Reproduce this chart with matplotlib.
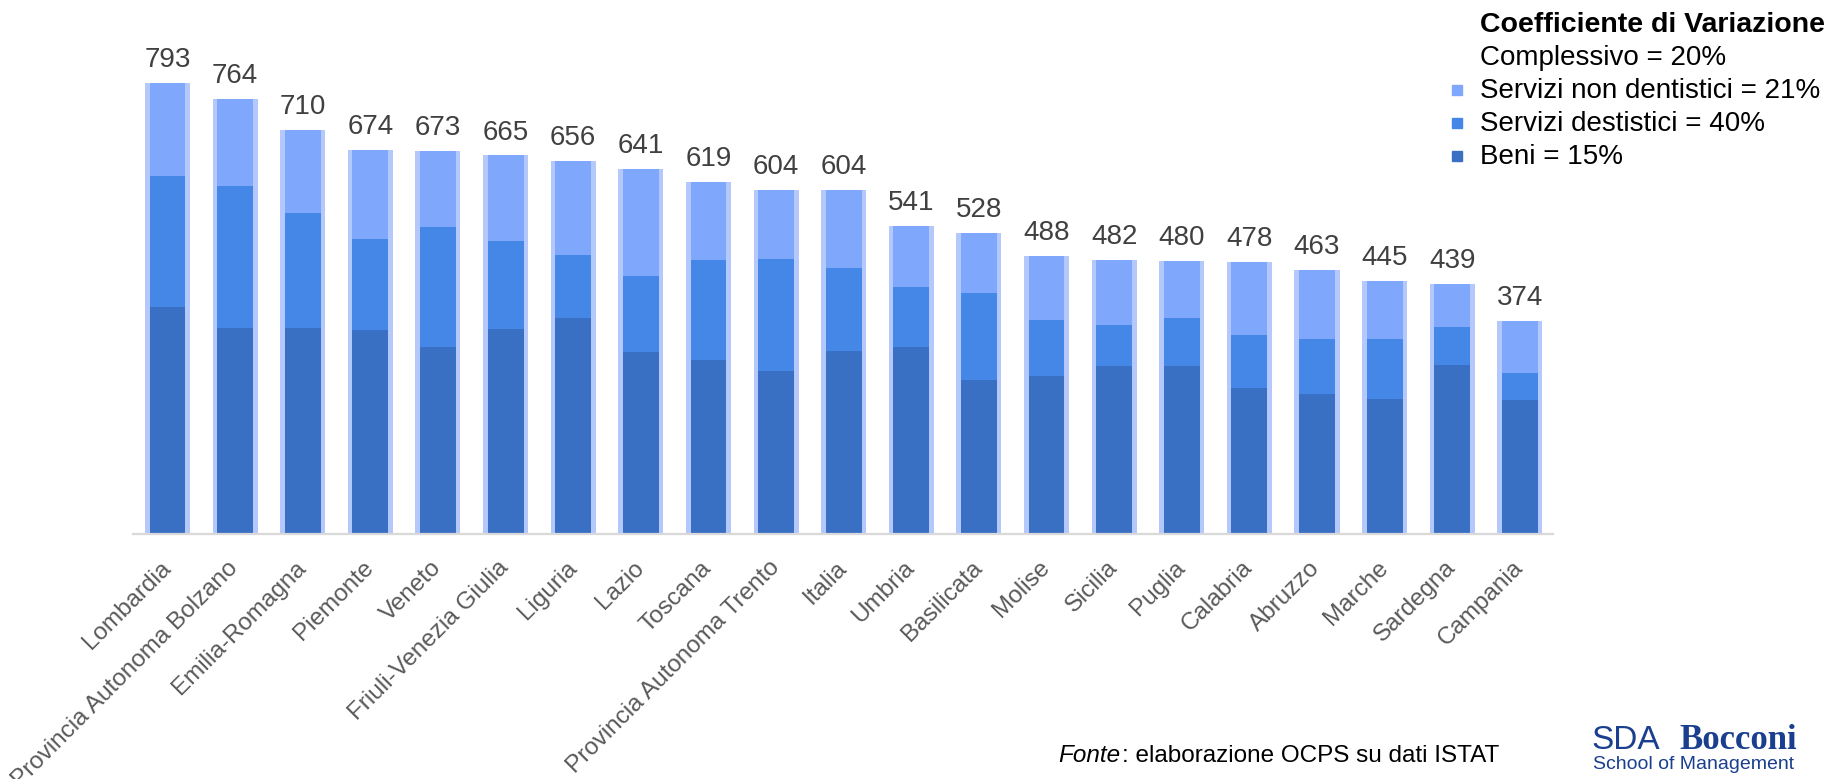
import matplotlib.pyplot as plt
import numpy as np

plt.rcParams['font.family'] = ['Liberation Sans', 'DejaVu Sans']

# spesa per regione (euro pro capite), ordinata per totale
regioni = ['Lombardia', 'Provincia Autonoma Bolzano', 'Emilia-Romagna', 'Piemonte',
           'Veneto', 'Friuli-Venezia Giulia', 'Liguria', 'Lazio', 'Toscana',
           'Provincia Autonoma Trento', 'Italia', 'Umbria', 'Basilicata', 'Molise',
           'Sicilia', 'Puglia', 'Calabria', 'Abruzzo', 'Marche', 'Sardegna', 'Campania']
totale = [793, 764, 710, 674, 673, 665, 656, 641, 619, 604, 604,
          541, 528, 488, 482, 480, 478, 463, 445, 439, 374]
beni = [398, 362, 362, 359, 328, 361, 380, 320, 306, 287, 322,
        329, 270, 277, 295, 295, 256, 246, 238, 297, 235]
dentistici = [231, 250, 202, 159, 211, 153, 110, 134, 176, 197, 146,
              105, 153, 99, 73, 84, 94, 96, 104, 66, 47]
non_dentistici = [164, 152, 146, 156, 134, 151, 166, 187, 137, 120, 136,
                  107, 105, 112, 114, 101, 128, 121, 103, 76, 92]

legenda = ['Servizi non dentistici = 21%', 'Servizi destistici = 40%', 'Beni = 15%']

c_beni = '#3a70c3'
c_dent = '#4587e7'
c_non = '#7fa7fc'
c_bordo = '#b4c8fb'

W, H = 1839, 779
fig = plt.figure(figsize=(W / 100, H / 100), dpi=100)

# axes in pixel coords: x 133..1553, y 20..534
ax = fig.add_axes([133 / W, (H - 534) / H, (1553 - 133) / W, (534 - 20) / H])

x = np.arange(len(regioni))
ax.bar(x, totale, width=0.666, color=c_bordo, zorder=1)
ax.bar(x, beni, width=0.53, color=c_beni, zorder=2)
ax.bar(x, dentistici, width=0.53, bottom=beni, color=c_dent, zorder=2)
ax.bar(x, non_dentistici, width=0.53, bottom=np.array(beni) + np.array(dentistici),
       color=c_non, zorder=2)

for xi, v in zip(x, totale):
    ax.annotate(str(v), (xi, v), xytext=(0, 11.5), textcoords='offset points',
                ha='center', va='baseline', fontsize=20, color='#404040')

ax.set_xlim(-0.51, 20.49)
ax.set_ylim(0, 903)
ax.set_yticks([])
for s in ['top', 'right', 'left']:
    ax.spines[s].set_visible(False)
ax.spines['bottom'].set_color('#d9d9d9')
ax.spines['bottom'].set_linewidth(1.6)

ax.set_xticks(x)
ax.set_xticklabels(regioni, rotation=45, ha='right', va='center',
                   rotation_mode='anchor', fontsize=17.5, color='#595959')
ax.tick_params(axis='x', length=0, pad=22)


def ftext(px, py, s, **kw):
    return fig.text(px / W, 1 - py / H, s, **kw)


# legenda a destra
ftext(1480, 32, 'Coefficiente di Variazione', fontsize=20.5, fontweight='bold',
      va='baseline', ha='left')
ftext(1480, 65, 'Complessivo = 20%', fontsize=20, va='baseline', ha='left')
for i, (lab, col) in enumerate(zip(legenda, [c_non, c_dent, c_beni])):
    yb = 98 + i * 33
    ftext(1480, yb, lab, fontsize=20, va='baseline', ha='left')
    fig.patches.append(plt.Rectangle((1452 / W, 1 - (yb - 3) / H), 10 / W, 10 / H,
                                     transform=fig.transFigure, color=col))

# fonte
t = ftext(1058, 762, 'Fonte', fontsize=17.5, style='italic', va='baseline', ha='left')
fig.canvas.draw()
x_end = t.get_window_extent().x1
ftext(x_end + 2, 762, ': elaborazione OCPS su dati ISTAT', fontsize=17.5,
      va='baseline', ha='left')

# logo
ftext(1591, 749, 'SDA', fontsize=24, color='#1b3f8f', va='baseline', ha='left')
ftext(1797, 749, 'Bocconi', fontsize=25, fontweight='bold', color='#1b3f8f',
      family='Liberation Serif', va='baseline', ha='right')
ftext(1694, 769, 'School of Management', fontsize=14, color='#1b3f8f',
      va='baseline', ha='center')

fig.savefig('out.png', dpi=100)
